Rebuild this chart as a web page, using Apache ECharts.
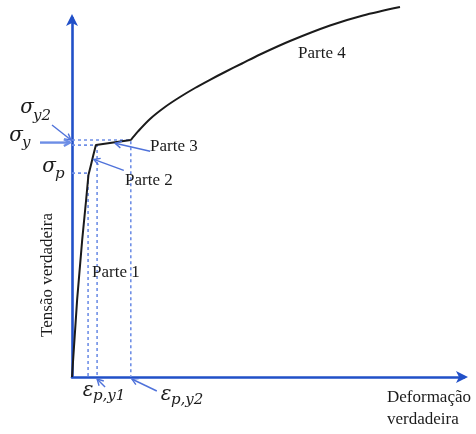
<!DOCTYPE html>
<html>
<head>
<meta charset="utf-8">
<script src="https://cdn.jsdelivr.net/npm/echarts@6/dist/echarts.min.js"></script>
<style>
  html, body { margin: 0; padding: 0; background: #fff; }
  #c { width: 476px; height: 434px; }
</style>
</head>
<body>
<div id="c"></div>
<script>
// True stress vs. true strain (arbitrary units, 0–100 on both axes)

// Parts 1–3: elastic line, transition to yield, short plateau
const strainA = [0, 1.3, 2.6, 3.6, 4.2, 4.85, 5.4, 6.1, 15.0];
const stressA = [0, 21.4, 38.2, 49.3, 56.3, 59.1, 61.6, 64.6, 66.0];

// Part 4: hardening branch
const strain4 = [15.0, 16.84, 19.9, 23.72, 27.55, 31.38, 35.2, 39.03, 43.37, 47.96, 55.61, 65.82, 74.23, 83.67];
const stress4 = [66.0, 68.4, 71.87, 75.21, 77.99, 80.5, 82.79, 84.96, 87.33, 89.83, 93.59, 97.91, 100.7, 103.06];

// Characteristic levels
const stressLevels = { p: 56.8, y: 64.6, y2: 66.0 };
const strainLevels = { p: 4.1, y1: 6.4, y2: 15.0 };

// Text labels
const partLabels = ['Parte 1', 'Parte 2', 'Parte 3', 'Parte 4'];
const yTitle = 'Tensão verdadeira';
const xTitle = ['Deformação', 'verdadeira'];

const AXIS_BLUE = '#2150c8';
const GUIDE_BLUE = '#6f8fe6';
const POINTER_BLUE = '#4f72da';
const INK = '#1b1b1b';

const zip = (xs, ys) => xs.map((x, i) => [x, ys[i]]);

// Dashed guide from the stress axis to a point and down to the strain axis
const guide = (eps, sig) => ({
  type: 'line',
  data: [[0, sig], [eps, sig], [eps, 0]],
  symbol: 'none',
  silent: true,
  z: 1,
  lineStyle: { color: GUIDE_BLUE, width: 1.6, type: [3, 3] }
});

const axisCommon = {
  type: 'value',
  min: 0,
  max: 100,
  axisLine: {
    show: true,
    onZero: false,
    symbol: ['none', 'arrow'],
    symbolSize: [9, 12],
    symbolOffset: [0, 4],
    lineStyle: { color: AXIS_BLUE, width: 2.6 }
  },
  axisTick: { show: false },
  axisLabel: { show: false },
  splitLine: { show: false }
};

const option = {
  animation: false,
  backgroundColor: '#fff',
  grid: { left: 72, right: 12, top: 18, bottom: 57 },
  xAxis: Object.assign({}, axisCommon),
  yAxis: Object.assign({}, axisCommon),
  series: [
    guide(strainLevels.p, stressLevels.p),
    guide(strainLevels.y1, stressLevels.y),
    guide(strainLevels.y2, stressLevels.y2),
    {
      type: 'line',
      data: zip(strainA, stressA),
      symbol: 'none',
      clip: false,
      z: 3,
      lineStyle: { color: INK, width: 2 }
    },
    {
      type: 'line',
      data: zip(strain4, stress4),
      symbol: 'none',
      smooth: 0.3,
      clip: false,
      z: 3,
      lineStyle: { color: INK, width: 2 }
    }
  ]
};

const chart = echarts.init(document.getElementById('c'), null, { renderer: 'canvas' });
chart.setOption(option);

const toPx = p => chart.convertToPixel({ gridIndex: 0 }, p);

function arrow(tail, head, color, width) {
  const ang = Math.atan2(head[1] - tail[1], head[0] - tail[0]);
  const L = 7, A = 0.5;
  const p1 = [head[0] - L * Math.cos(ang - A), head[1] - L * Math.sin(ang - A)];
  const p2 = [head[0] - L * Math.cos(ang + A), head[1] - L * Math.sin(ang + A)];
  return [
    { type: 'line', z: 10, shape: { x1: tail[0], y1: tail[1], x2: head[0], y2: head[1] },
      style: { stroke: color, lineWidth: width } },
    { type: 'polyline', z: 10, shape: { points: [p1, head, p2] },
      style: { stroke: color, lineWidth: width, fill: null } }
  ];
}

function text(str, x, y, font, align, vAlign, extra) {
  return Object.assign({
    type: 'text', x: x, y: y, z: 10,
    style: {
      text: str, font: font, fill: INK,
      align: align, verticalAlign: vAlign,
      textAlign: align, textVerticalAlign: vAlign
    }
  }, extra || {});
}

const SERIF = '17px "Liberation Serif", "Times New Roman", serif';
const MATH = 'italic 20px "DejaVu Serif", serif';
const MATH_SUB = 'italic 15px "DejaVu Serif", serif';

// Symbol with subscript: sym centred at (x, y), subscript starts at its right
function mathLabel(sym, sub, x, y, dx, dy) {
  return [
    text(sym, x, y, MATH, 'center', 'middle'),
    text(sub, x + dx, y + dy, MATH_SUB, 'left', 'middle')
  ];
}

// Pointers: target in data units, tail offset in pixels
const pY2 = toPx([0, stressLevels.y2]);
const pY = toPx([0, (stressLevels.y + stressLevels.y2) / 2]);
const pPart2 = toPx([5.3, 60.6]);
const pPart3 = toPx([11.0, 65.4]);
const pE1 = toPx([strainLevels.y1, 0]);
const pE2 = toPx([strainLevels.y2, 0]);

const els = [].concat(
  arrow([pY2[0] - 20, pY2[1] - 15], [pY2[0] - 1, pY2[1]], POINTER_BLUE, 1.4),
  arrow([pY[0] - 32, pY[1]], [pY[0] - 2, pY[1]], '#6d8ee6', 2.4),
  arrow([pPart2[0] + 31, pPart2[1] + 11], [pPart2[0] + 1, pPart2[1]], POINTER_BLUE, 1.4),
  arrow([pPart3[0] + 35, pPart3[1] + 9], [pPart3[0], pPart3[1] + 1], POINTER_BLUE, 1.4),
  arrow([pE1[0] + 8, pE1[1] + 10], [pE1[0], pE1[1] + 2], POINTER_BLUE, 1.4),
  arrow([pE2[0] + 26, pE2[1] + 14], [pE2[0] + 1, pE2[1] + 2], POINTER_BLUE, 1.4),

  mathLabel('σ', 'y2', 27, 108, 6, 8),
  mathLabel('σ', 'y', 16, 136, 6, 7),
  mathLabel('σ', 'p', 49, 167, 6, 7),
  mathLabel('ε', 'p,y1', 88, 391, 5, 5),
  mathLabel('ε', 'p,y2', 166, 395, 5, 5),

  [
    text(partLabels[0], 92, 273, SERIF, 'left', 'middle'),
    text(partLabels[1], 125, 181, SERIF, 'left', 'middle'),
    text(partLabels[2], 150, 147, SERIF, 'left', 'middle'),
    text(partLabels[3], 298, 54, SERIF, 'left', 'middle'),
    text(yTitle, 48, 275, SERIF, 'center', 'middle', { rotation: Math.PI / 2 }),
    text(xTitle[0], 387, 398, SERIF, 'left', 'middle'),
    text(xTitle[1], 387, 420, SERIF, 'left', 'middle')
  ]
);

chart.setOption({ graphic: { elements: els } });
</script>
</body>
</html>
